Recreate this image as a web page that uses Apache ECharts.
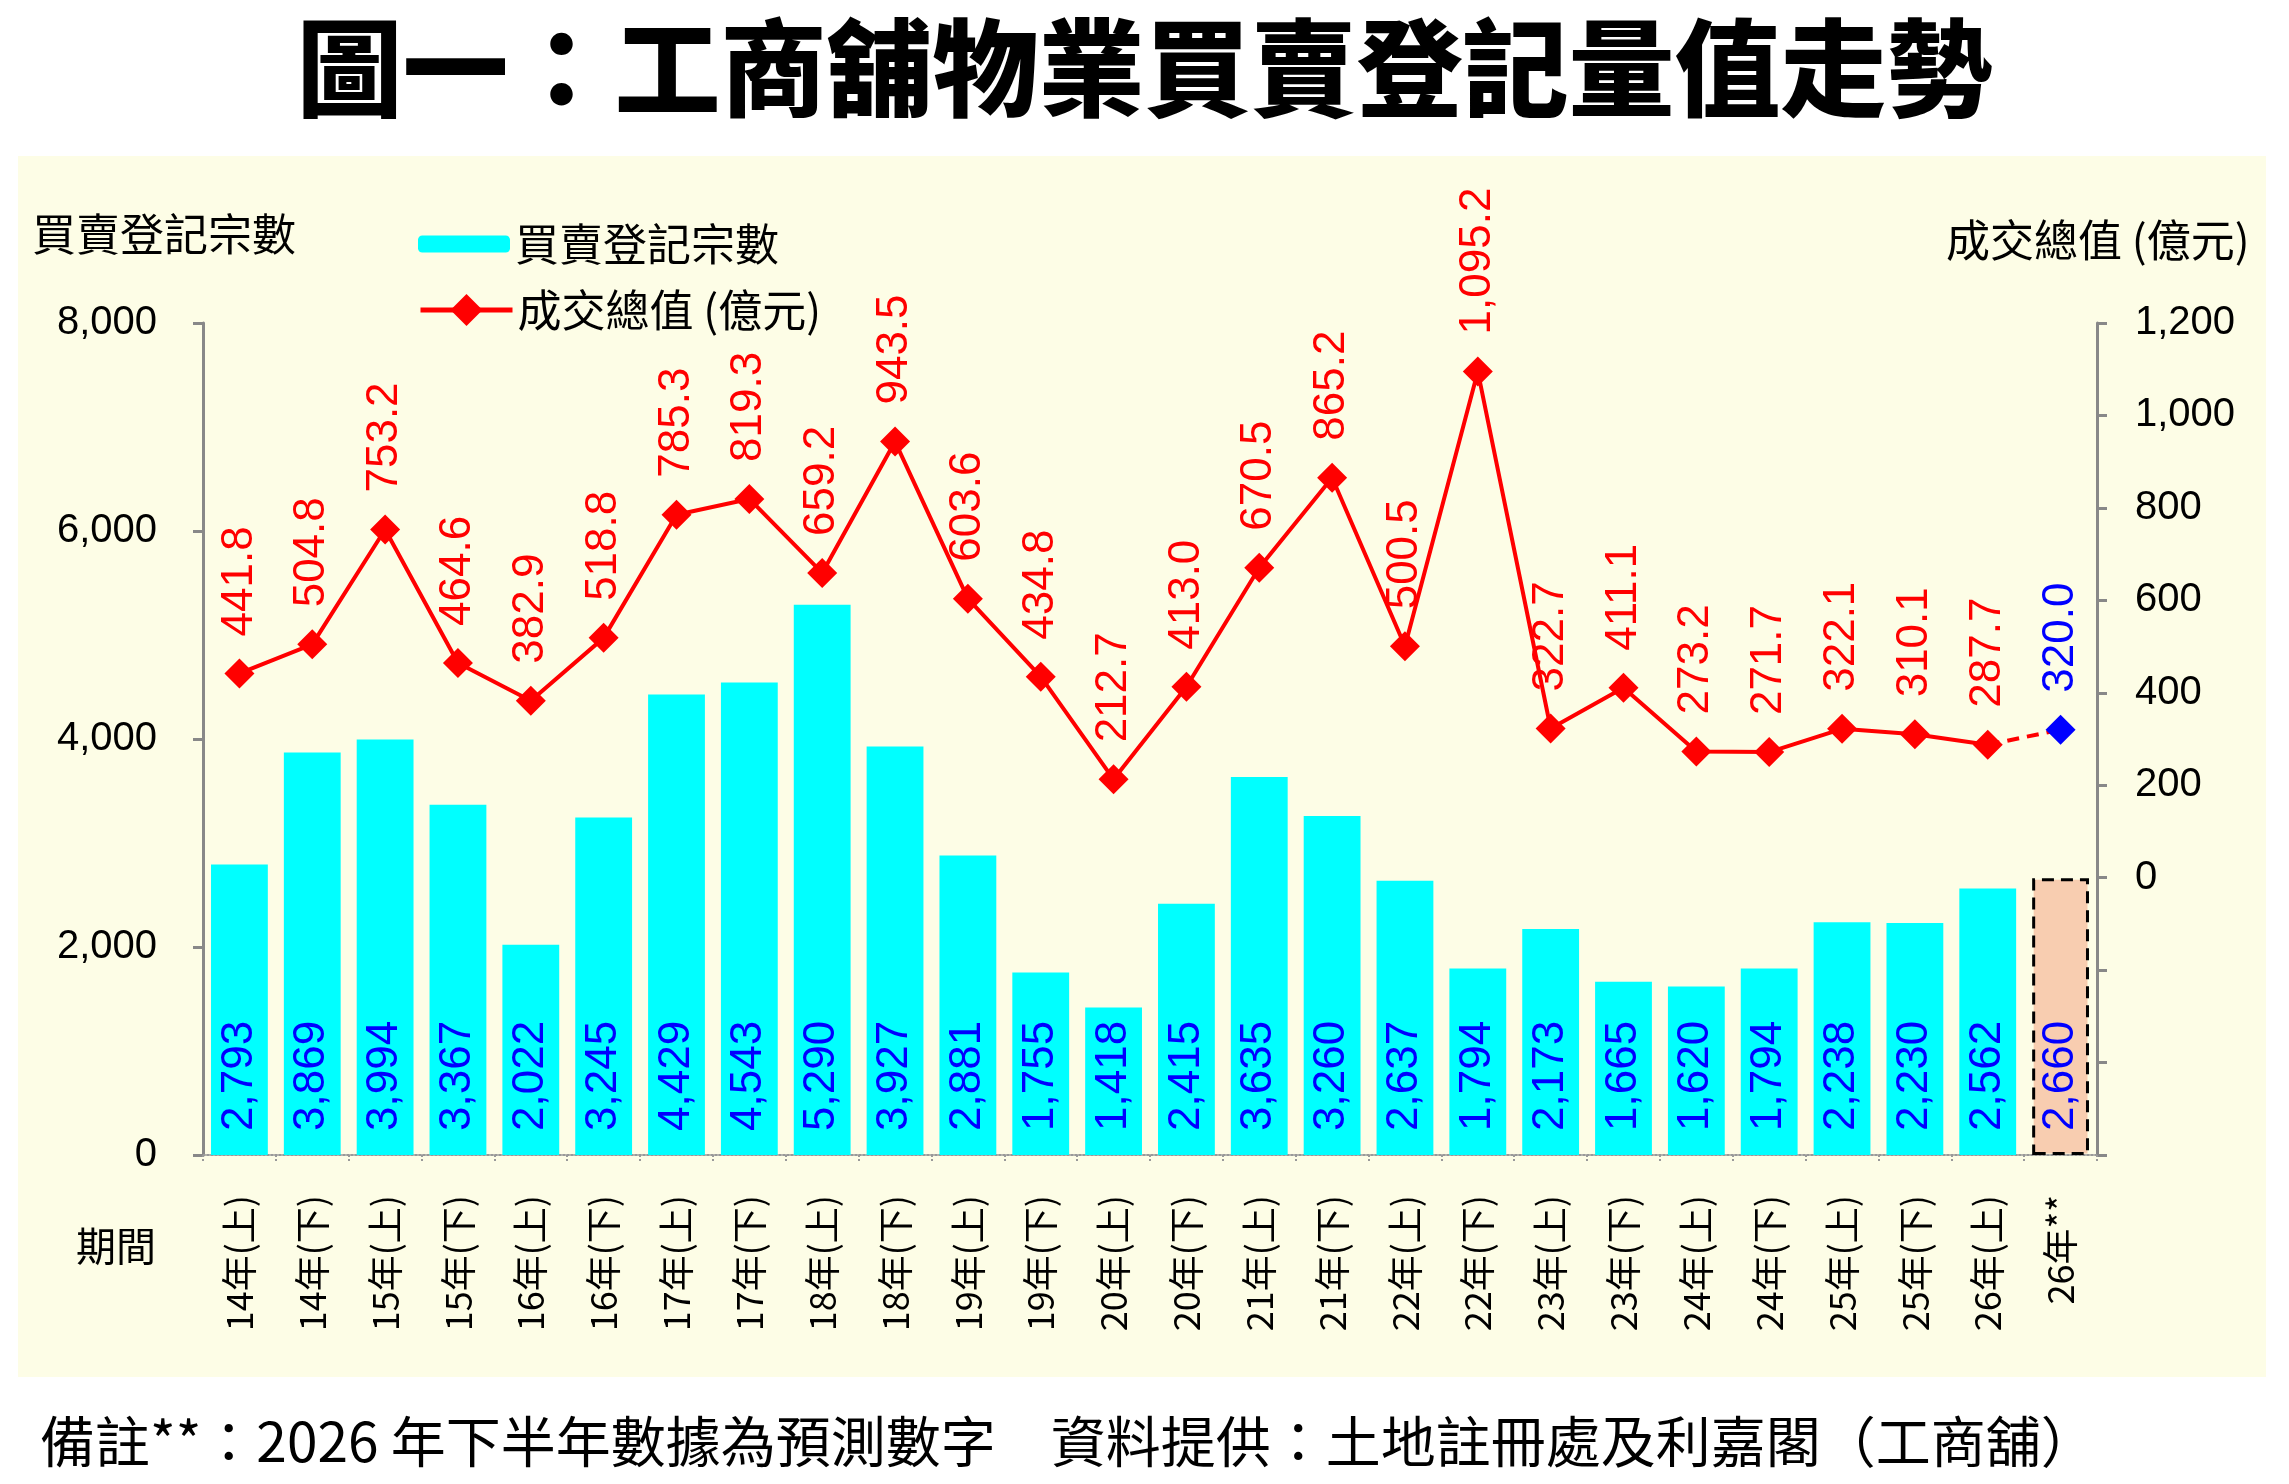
<!DOCTYPE html>
<html>
<head>
<meta charset="utf-8">
<script src="https://cdn.jsdelivr.net/npm/echarts@6/dist/echarts.min.js"></script>
<style>
  html, body { margin: 0; padding: 0; background: #fff; }
  #chart { width: 2289px; height: 1484px; }
</style>
</head>
<body>
<div id="chart"></div>
<script>
// ===== Data =====
const periods = [
  '14年(上)', '14年(下)', '15年(上)', '15年(下)', '16年(上)', '16年(下)',
  '17年(上)', '17年(下)', '18年(上)', '18年(下)', '19年(上)', '19年(下)',
  '20年(上)', '20年(下)', '21年(上)', '21年(下)', '22年(上)', '22年(下)',
  '23年(上)', '23年(下)', '24年(上)', '24年(下)', '25年(上)', '25年(下)',
  '26年(上)', '26年**'
];
// 買賣登記宗數 (last one is the forecast)
const deals = [
  2793, 3869, 3994, 3367, 2022, 3245, 4429, 4543, 5290, 3927, 2881, 1755,
  1418, 2415, 3635, 3260, 2637, 1794, 2173, 1665, 1620, 1794, 2238, 2230,
  2562, 2660
];
// 成交總值 (億元) (last one is the forecast)
const values = [
  441.8, 504.8, 753.2, 464.6, 382.9, 518.8, 785.3, 819.3, 659.2, 943.5, 603.6, 434.8,
  212.7, 413.0, 670.5, 865.2, 500.5, 1095.2, 322.7, 411.1, 273.2, 271.7, 322.1, 310.1,
  287.7, 320.0
];
const leftTicks = { min: 0, max: 8000, step: 2000 };
const rightTicks = { min: -600, max: 1200, step: 200 };

// ===== Helpers =====
const CJK = '"Noto Sans CJK TC", "Noto Sans CJK SC", sans-serif';
const NUM = '"Liberation Sans", Arial, sans-serif';
const fmtInt = v => Number(v).toLocaleString('en-US');
const fmt1 = v => Number(v).toLocaleString('en-US', { minimumFractionDigits: 1, maximumFractionDigits: 1 });
const last = values.length - 1;

const barData = deals.map((v, i) => i === last
  ? { value: v, itemStyle: { color: '#F8CDB0', borderColor: '#000', borderWidth: 3, borderType: [12, 7] } }
  : v);

const solidLine = values.map((v, i) => i < last ? v : '-');
const forecastLine = values.map((v, i) => {
  if (i === last) return { value: v, symbol: 'diamond', itemStyle: { color: '#0000FF' }, label: { show: true, color: '#0000FF' } };
  if (i === last - 1) return { value: v, symbol: 'none' };
  return '-';
});

const legendText = { fontFamily: CJK, fontSize: 44, color: '#000', lineHeight: 46 };

// ===== Chart =====
const chart = echarts.init(document.getElementById('chart'), null, { renderer: 'canvas' });

chart.setOption({
  animation: false,
  backgroundColor: '#ffffff',
  title: {
    text: '圖一：工商舖物業買賣登記量值走勢',
    left: 'center',
    top: 10,
    textStyle: { fontFamily: CJK, fontSize: 106, fontWeight: 900, color: '#000' }
  },
  legend: [
    {
      left: 413, top: 216, itemWidth: 92, itemHeight: 17,
      data: ['買賣登記宗數'], textStyle: legendText
    },
    {
      left: 413, top: 282, itemWidth: 92, itemHeight: 40,
      lineStyle: { width: 5, color: '#FF0000' },
      itemStyle: { color: '#FF0000' },
      data: [{ name: '成交總值 (億元)' }], textStyle: legendText
    }
  ],
  grid: { left: 203, top: 323, width: 1894, height: 832 },
  xAxis: {
    type: 'category',
    data: periods,
    axisLine: { lineStyle: { color: '#999', width: 2, type: 'dotted' } },
    axisTick: { show: true, length: 8, lineStyle: { color: '#999', width: 2, type: 'dotted' } },
    axisLabel: { rotate: 90, margin: 40, fontFamily: CJK, fontSize: 36, color: '#000', interval: 0 }
  },
  yAxis: [
    {
      type: 'value',
      min: leftTicks.min, max: leftTicks.max, interval: leftTicks.step,
      position: 'left',
      splitLine: { show: false },
      axisLine: { show: true, lineStyle: { color: '#888', width: 3 } },
      axisTick: { show: true, length: 10, lineStyle: { color: '#888', width: 3 } },
      axisLabel: { margin: 46, fontFamily: NUM, fontSize: 40, color: '#000', formatter: fmtInt }
    },
    {
      type: 'value',
      min: rightTicks.min, max: rightTicks.max, interval: rightTicks.step,
      position: 'right',
      splitLine: { show: false },
      axisLine: { show: true, lineStyle: { color: '#888', width: 3 } },
      axisTick: { show: true, length: 10, lineStyle: { color: '#888', width: 3 } },
      axisLabel: { margin: 38, fontFamily: NUM, fontSize: 40, color: '#000', formatter: v => v < 0 ? '' : fmtInt(v) }
    }
  ],
  graphic: [
    { type: 'rect', z: -100, shape: { x: 18, y: 156, width: 2248, height: 1221 }, style: { fill: '#FDFDE6' } },
    { type: 'text', left: 32, top: 212, style: { text: '買賣登記宗數', font: '44px ' + CJK, fill: '#000' } },
    { type: 'text', left: 1946, top: 218, style: { text: '成交總值 (億元)', font: '44px ' + CJK, fill: '#000' } },
    { type: 'text', left: 76, top: 1226, style: { text: '期間', font: '40px ' + CJK, fill: '#000' } },
    { type: 'text', left: 40, top: 1414, style: { text: '備註**：2026 年下半年數據為預測數字　資料提供：土地註冊處及利嘉閣（工商舖）', font: '55px ' + CJK, fill: '#000' } }
  ],
  series: [
    {
      name: '買賣登記宗數',
      type: 'bar',
      yAxisIndex: 0,
      barWidth: '78%',
      itemStyle: { color: '#00FFFF' },
      data: barData,
      label: {
        show: true, position: 'insideBottom', distance: 24, rotate: 90,
        align: 'left', verticalAlign: 'middle',
        fontFamily: NUM, fontSize: 44, color: '#0000FF', formatter: p => fmtInt(p.value)
      },
      z: 2
    },
    {
      name: '成交總值 (億元)',
      type: 'line',
      yAxisIndex: 1,
      symbol: 'diamond',
      symbolSize: 30,
      itemStyle: { color: '#FF0000' },
      lineStyle: { color: '#FF0000', width: 4 },
      data: solidLine,
      label: {
        show: true, position: 'top', distance: 22, rotate: 90,
        align: 'left', verticalAlign: 'middle',
        fontFamily: NUM, fontSize: 44, color: '#FF0000', formatter: p => fmt1(p.value)
      },
      z: 5
    },
    {
      name: '預測',
      type: 'line',
      yAxisIndex: 1,
      symbol: 'none',
      symbolSize: 30,
      lineStyle: { color: '#FF0000', width: 4, type: [12, 8] },
      data: forecastLine,
      label: {
        show: false, position: 'top', distance: 22, rotate: 90,
        align: 'left', verticalAlign: 'middle',
        fontFamily: NUM, fontSize: 44, formatter: p => fmt1(p.value)
      },
      z: 4
    }
  ]
});
</script>
</body>
</html>
